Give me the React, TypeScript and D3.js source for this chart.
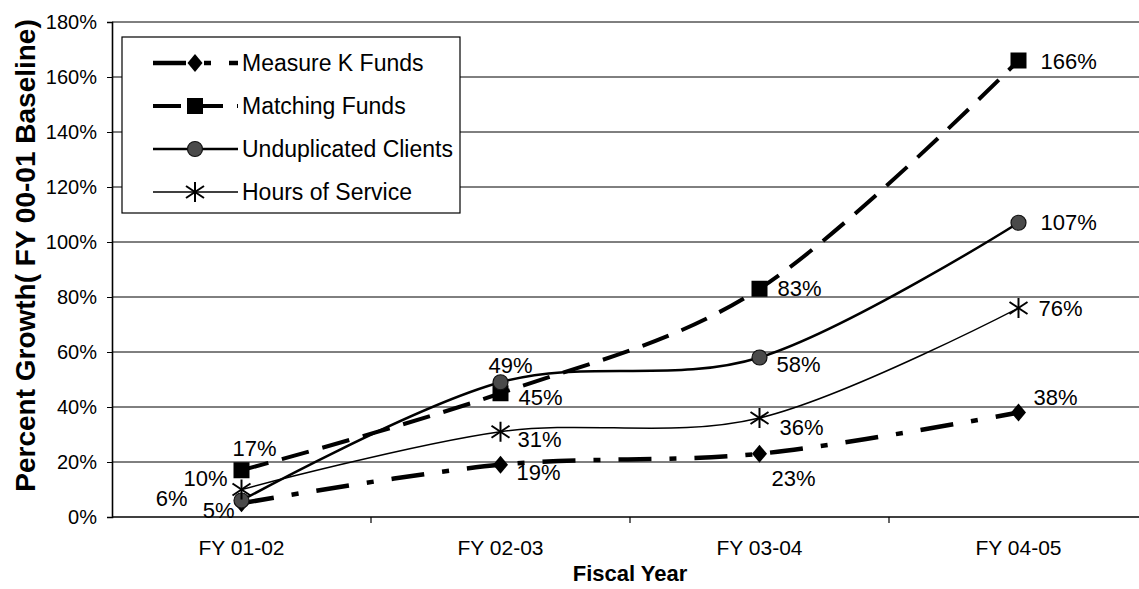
import React, { useRef, useEffect } from 'react';
import * as d3 from 'd3';

const categories = ['FY 01-02', 'FY 02-03', 'FY 03-04', 'FY 04-05'];
const measureK = [5, 19, 23, 38];
const matching = [17, 45, 83, 166];
const clients = [6, 49, 58, 107];
const hours = [10, 31, 36, 76];
const yTicks = [0, 20, 40, 60, 80, 100, 120, 140, 160, 180];

// where each point's value label sits relative to the marker: [dx, dy, anchor]
const labelPlacement: Record<string, [number, number, string][]> = {
  measureK: [[-7, 7, 'end'], [16, 8, 'start'], [34, 25, 'middle'], [15, -15, 'start']],
  matching: [[13, -22, 'middle'], [18, 4, 'start'], [18, 0, 'start'], [22, 1, 'start']],
  clients: [[-54, -2, 'end'], [10, -17, 'middle'], [17, 7, 'start'], [22, 0, 'start']],
  hours: [[-14, -11, 'end'], [17, 8, 'start'], [20, 9, 'start'], [20, 0, 'start']],
};

const W = 1139;
const H = 589;
const FONT = '"Liberation Sans", Arial, Helvetica, sans-serif';

type Series = {
  key: string;
  name: string;
  values: number[];
  width: number;
  dash: string | null;
  marker: 'diamond' | 'square' | 'circle' | 'asterisk';
};

const series: Series[] = [
  { key: 'measureK', name: 'Measure K Funds', values: measureK, width: 4.5, dash: '33 18 7 18', marker: 'diamond' },
  { key: 'matching', name: 'Matching Funds', values: matching, width: 4, dash: '28 14', marker: 'square' },
  { key: 'clients', name: 'Unduplicated Clients', values: clients, width: 2.5, dash: null, marker: 'circle' },
  { key: 'hours', name: 'Hours of Service', values: hours, width: 1.5, dash: null, marker: 'asterisk' },
];

function drawMarker(g: d3.Selection<SVGGElement, unknown, null, undefined>, kind: string, cx: number, cy: number) {
  if (kind === 'diamond') {
    g.append('path')
      .attr('d', `M${cx},${cy - 9}L${cx + 7.5},${cy}L${cx},${cy + 9}L${cx - 7.5},${cy}Z`)
      .attr('fill', '#000');
  } else if (kind === 'square') {
    g.append('rect')
      .attr('x', cx - 8).attr('y', cy - 8).attr('width', 16).attr('height', 16)
      .attr('fill', '#000');
  } else if (kind === 'circle') {
    g.append('circle')
      .attr('cx', cx).attr('cy', cy).attr('r', 7.5)
      .attr('fill', '#4a4a4a').attr('stroke', '#111').attr('stroke-width', 1.2);
  } else {
    const a = g.append('g').attr('stroke', '#000').attr('stroke-width', 2);
    a.append('line').attr('x1', cx).attr('y1', cy - 10).attr('x2', cx).attr('y2', cy + 10);
    a.append('line').attr('x1', cx - 9).attr('y1', cy - 6).attr('x2', cx + 9).attr('y2', cy + 6);
    a.append('line').attr('x1', cx - 9).attr('y1', cy + 6).attr('x2', cx + 9).attr('y2', cy - 6);
  }
}

const App: React.FC = () => {
  const svgRef = useRef<SVGSVGElement>(null);

  useEffect(() => {
    if (!svgRef.current) return;
    const svg = d3.select(svgRef.current);
    svg.selectAll('*').remove();

    const left = 112;
    const right = 1148;
    const top = 22;
    const bottom = 517;

    const x = d3.scaleBand<string>().domain(categories).range([left, right]).padding(0);
    const cx = (c: string) => (x(c) as number) + x.bandwidth() / 2;
    const y = d3.scaleLinear().domain([0, 180]).range([bottom, top]);

    svg.append('rect').attr('width', W).attr('height', H).attr('fill', '#fff');

    // gridlines
    svg.append('g')
      .selectAll('line')
      .data(yTicks)
      .join('line')
      .attr('x1', left).attr('x2', right)
      .attr('y1', d => y(d)).attr('y2', d => y(d))
      .attr('stroke', '#000')
      .attr('stroke-width', d => (d === 0 ? 1.6 : 1));

    // y axis
    const yAxis = svg.append('g')
      .attr('transform', `translate(${left},0)`)
      .call(d3.axisLeft(y).tickValues(yTicks).tickSize(5).tickPadding(10).tickFormat(d => `${d}%`));
    yAxis.select('.domain').attr('stroke', '#000').attr('stroke-width', 1.6);
    yAxis.selectAll('text').attr('font-family', FONT).attr('font-size', 20).attr('fill', '#000');

    // x axis: ticks at category boundaries
    svg.append('g')
      .selectAll('line')
      .data(categories.slice(1))
      .join('line')
      .attr('x1', d => x(d) as number).attr('x2', d => x(d) as number)
      .attr('y1', bottom).attr('y2', bottom + 6)
      .attr('stroke', '#000').attr('stroke-width', 1.2);

    svg.append('g')
      .selectAll('text')
      .data(categories)
      .join('text')
      .attr('x', d => cx(d))
      .attr('y', 547)
      .attr('text-anchor', 'middle')
      .attr('dominant-baseline', 'central')
      .attr('font-family', FONT)
      .attr('font-size', 21)
      .text(d => d);

    svg.append('text')
      .attr('x', (left + right) / 2)
      .attr('y', 573)
      .attr('text-anchor', 'middle')
      .attr('dominant-baseline', 'central')
      .attr('font-family', FONT)
      .attr('font-size', 22)
      .attr('font-weight', 'bold')
      .text('Fiscal Year');

    svg.append('text')
      .attr('transform', `translate(25,${(top + bottom) / 2 - 14}) rotate(-90)`)
      .attr('text-anchor', 'middle')
      .attr('dominant-baseline', 'central')
      .attr('font-family', FONT)
      .attr('font-size', 28)
      .attr('font-weight', 'bold')
      .text('Percent Growth( FY 00-01 Baseline)');

    // series lines
    const line = d3.line<number>()
      .x((_, i) => cx(categories[i]))
      .y(d => y(d))
      .curve(d3.curveCardinal.tension(0));

    series.forEach(s => {
      svg.append('path')
        .datum(s.values)
        .attr('fill', 'none')
        .attr('stroke', '#000')
        .attr('stroke-width', s.width)
        .attr('stroke-dasharray', s.dash)
        .attr('d', line);
    });

    series.forEach(s => {
      const g = svg.append('g');
      s.values.forEach((v, i) => drawMarker(g, s.marker, cx(categories[i]), y(v)));
    });

    // value labels
    series.forEach(s => {
      svg.append('g')
        .selectAll('text')
        .data(s.values)
        .join('text')
        .attr('x', (_, i) => cx(categories[i]) + labelPlacement[s.key][i][0])
        .attr('y', (d, i) => y(d) + labelPlacement[s.key][i][1])
        .attr('text-anchor', (_, i) => labelPlacement[s.key][i][2])
        .attr('dominant-baseline', 'central')
        .attr('font-family', FONT)
        .attr('font-size', 22)
        .text(d => `${d}%`);
    });

    // legend
    const lg = svg.append('g');
    lg.append('rect')
      .attr('x', 122).attr('y', 37).attr('width', 338).attr('height', 176)
      .attr('fill', '#fff').attr('stroke', '#000').attr('stroke-width', 1.2);
    series.forEach((s, i) => {
      const ly = 63 + i * 43;
      lg.append('line')
        .attr('x1', 153).attr('x2', 238).attr('y1', ly).attr('y2', ly)
        .attr('stroke', '#000')
        .attr('stroke-width', s.width)
        .attr('stroke-dasharray', s.dash);
      drawMarker(lg, s.marker, 195, ly);
      lg.append('text')
        .attr('x', 242).attr('y', ly)
        .attr('dominant-baseline', 'central')
        .attr('font-family', FONT)
        .attr('font-size', 23)
        .text(s.name);
    });
  }, []);

  return (
    <svg
      ref={svgRef}
      width={W}
      height={H}
      style={{ position: 'absolute', left: 0, top: 0, display: 'block' }}
    />
  );
};

export default App;
